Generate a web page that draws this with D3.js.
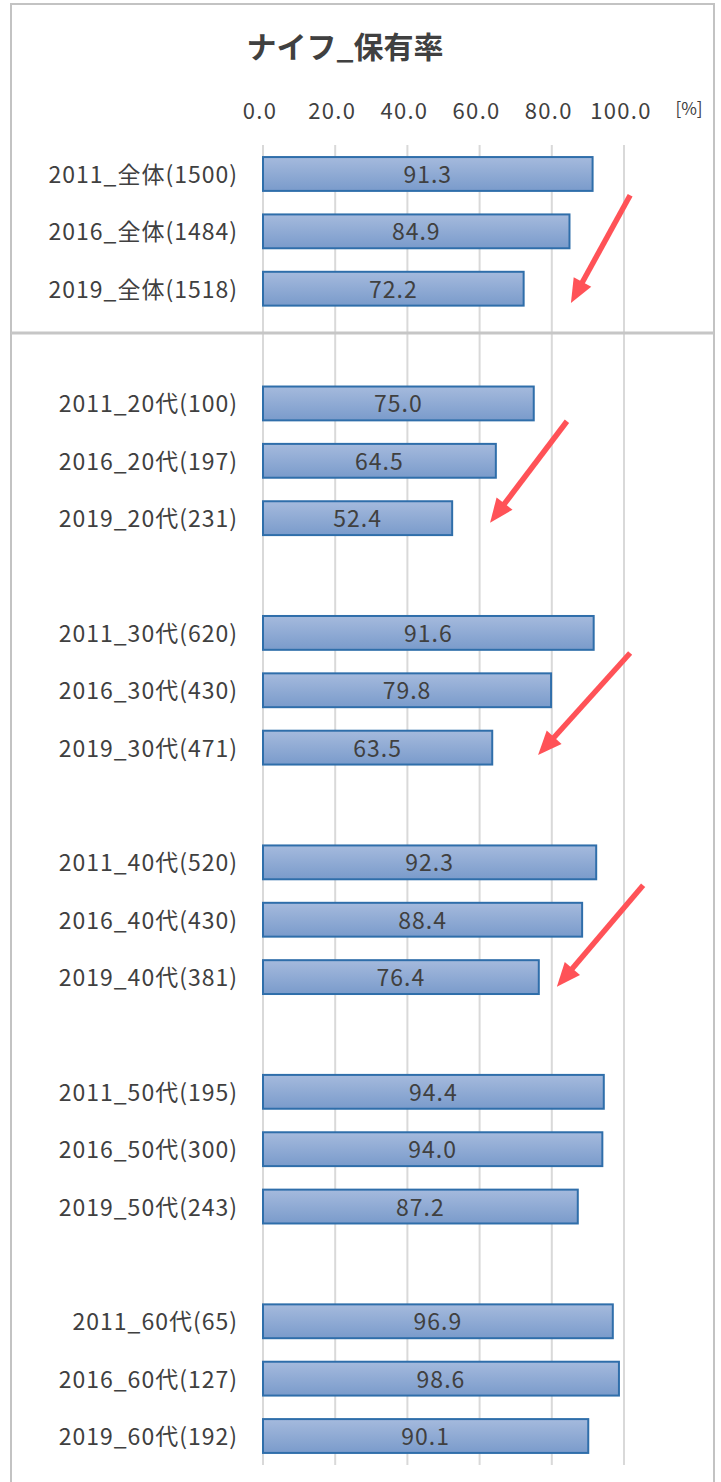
<!DOCTYPE html>
<html><head><meta charset="utf-8">
<script src="https://cdn.jsdelivr.net/npm/d3@7"></script>
<style>
html,body{margin:0;padding:0;background:#fff;}
svg{display:block;}
text{font-family:"Noto Sans CJK JP","Noto Sans",sans-serif;fill:#404040;}
</style></head>
<body><svg id="chart" width="721" height="1482"></svg>
<script>
const title = "ナイフ_保有率";
const categories = ["2011_全体(1500)","2016_全体(1484)","2019_全体(1518)", null,
  "2011_20代(100)","2016_20代(197)","2019_20代(231)", null,
  "2011_30代(620)","2016_30代(430)","2019_30代(471)", null,
  "2011_40代(520)","2016_40代(430)","2019_40代(381)", null,
  "2011_50代(195)","2016_50代(300)","2019_50代(243)", null,
  "2011_60代(65)","2016_60代(127)","2019_60代(192)"];
const values = [91.3,84.9,72.2,null,75.0,64.5,52.4,null,91.6,79.8,63.5,null,
  92.3,88.4,76.4,null,94.4,94.0,87.2,null,96.9,98.6,90.1];
const tickValues = [0,20,40,60,80,100];
const unitLabel = "[%]";
// arrows: start / tip in data units (x value, row position)
const arrowsFromX = [101.7, 84.2, 101.7, 105.3];
const arrowsFromRow = [0.37, 4.31, 8.35, 12.40];
const arrowsToX = [85.3, 62.9, 76.2, 81.4];
const arrowsToRow = [2.25, 6.08, 10.13, 14.17];

const svg = d3.select("#chart");
const idx = d3.range(categories.length);
const x = d3.scaleLinear().domain([0,100]).range([263, 624]);
const y = d3.scaleBand().domain(idx).range([145.3, 1464.7]).paddingInner(0.41).paddingOuter(0.205);
const rowY = r => y(0) + y.bandwidth()/2 + r*y.step();

// gradient
const defs = svg.append("defs");
const grad = defs.append("linearGradient").attr("id","barGrad").attr("x1",0).attr("y1",0).attr("x2",0).attr("y2",1);
grad.append("stop").attr("offset","0%").attr("stop-color","#a5badd");
grad.append("stop").attr("offset","100%").attr("stop-color","#7a9bcb");

// outer border
svg.append("rect").attr("x",11).attr("y",4).attr("width",703).attr("height",1500)
  .attr("fill","none").attr("stroke","#c3c3c3").attr("stroke-width",2);

// title
svg.append("text").attr("x",345).attr("y",58).attr("text-anchor","middle")
  .attr("font-size",30).attr("font-weight","bold").text(title);

// gridlines
svg.append("g").selectAll("line").data(tickValues).join("line")
  .attr("x1",d=>x(d)).attr("x2",d=>x(d)).attr("y1",145).attr("y2",1465)
  .attr("stroke","#d9d9d9").attr("stroke-width",2);

// top tick labels
svg.append("g").selectAll("text").data(tickValues).join("text")
  .attr("x",d=>x(d)-3).attr("y",119).attr("text-anchor","middle").attr("font-size",22)
  .attr("letter-spacing",1.3)
  .text(d=>d3.format(".1f")(d));
svg.append("text").attr("x",689).attr("y",115).attr("text-anchor","middle").attr("font-size",17).text(unitLabel);

// separator
const sepY = rowY(2) + 0.77*y.step();
svg.append("line").attr("x1",11).attr("x2",714).attr("y1",sepY).attr("y2",sepY)
  .attr("stroke","#c6c6c6").attr("stroke-width",3);

// bars
const rows = idx.filter(i => values[i] != null);
svg.append("g").selectAll("rect").data(rows).join("rect")
  .attr("x",x(0)).attr("y",i=>y(i)).attr("width",i=>x(values[i])-x(0)).attr("height",y.bandwidth())
  .attr("fill","url(#barGrad)").attr("stroke","#2f6eaa").attr("stroke-width",2);

// value labels
svg.append("g").selectAll("text").data(rows).join("text")
  .attr("x",i=>(x(0)+x(values[i]))/2).attr("y",i=>y(i)+y.bandwidth()/2+9)
  .attr("text-anchor","middle").attr("font-size",23).attr("letter-spacing",1)
  .text(i=>d3.format(".1f")(values[i]));

// category labels
svg.append("g").selectAll("text").data(rows).join("text")
  .attr("x",238).attr("y",i=>y(i)+y.bandwidth()/2+9)
  .attr("text-anchor","end").attr("font-size",23).attr("letter-spacing",1)
  .text(i=>categories[i]);

// arrows
const arrowG = svg.append("g");
arrowsFromX.forEach((fx,k)=>{
  const x1 = x(fx), y1 = rowY(arrowsFromRow[k]);
  const x2 = x(arrowsToX[k]), y2 = rowY(arrowsToRow[k]);
  const dx = x2-x1, dy = y2-y1, L = Math.hypot(dx,dy);
  const ux = dx/L, uy = dy/L, px = -uy, py = ux;
  const hl = 24, hw = 10;
  const bx = x2-ux*hl, by = y2-uy*hl;
  arrowG.append("line").attr("x1",x1).attr("y1",y1).attr("x2",bx+ux*2).attr("y2",by+uy*2)
    .attr("stroke","#ff5257").attr("stroke-width",5.5);
  arrowG.append("path").attr("d",`M${x2},${y2}L${bx+px*hw},${by+py*hw}L${bx-px*hw},${by-py*hw}Z`)
    .attr("fill","#ff5257");
});
</script></body></html>
